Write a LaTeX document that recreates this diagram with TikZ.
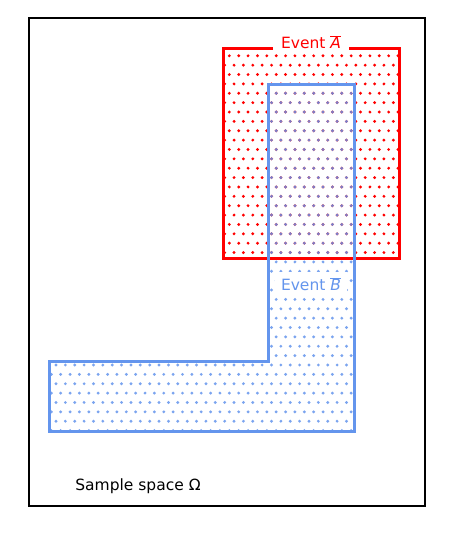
\documentclass[tikz,border=0pt]{standalone}
\usepackage{fontspec}
\setmainfont{DejaVu Sans}
\definecolor{evA}{RGB}{255,0,0}
\definecolor{evB}{RGB}{100,149,237}
\tikzset{
  frame/.style={draw=black,line width=2.6pt},
  borderA/.style={draw=evA,line width=3pt},
  borderB/.style={draw=evB,line width=3pt},
  lbl/.style={font=\fontsize{15.5}{18}\selectfont,inner sep=2pt},
}
\newcommand{\dotgrid}[5]{% k from, k to, j from, j to, colour
  \foreach \k in {#1,...,#2}{
    \pgfmathsetmacro{\yy}{365+\k*9.37}
    \pgfmathsetmacro{\off}{abs(mod(\k,2))*4.685}
    \foreach \j in {#3,...,#4}{
      \fill[#5] ({56+\j*9.37+\off},\yy) circle (1.6);
    }
  }
}
\begin{document}
\begin{tikzpicture}[x=1pt,y=-1pt]
\useasboundingbox (0,0) rectangle (459,543);
\fill[white] (0,0) rectangle (459,543);
% frame
\draw[frame] (29,18) rectangle (425,506);
% Event A dots
\begin{scope}
  \clip (223,49) rectangle (399,258);
  \dotgrid{-34}{-11}{17}{37}{evA}
\end{scope}
\coordinate (a1) at (223,49);
\coordinate (a2) at (399,258);
\draw[borderA] (a1) rectangle (a2);
% Event B dots
\begin{scope}
  \clip (268,84) -- (354,84) -- (354,431) -- (49,431) -- (49,361) -- (268,361) -- cycle;
  \dotgrid{-31}{8}{-1}{33}{evB,opacity=0.85}
\end{scope}
\coordinate (b1) at (268,84);
\coordinate (b2) at (354,84);
\coordinate (b3) at (354,431);
\coordinate (b4) at (49,431);
\coordinate (b5) at (49,361);
\coordinate (b6) at (268,361);
\draw[borderB,line join=miter] (b1) -- (b2) -- (b3) -- (b4) -- (b5) -- (b6) -- cycle;
% labels
\node[lbl,fill=white,text=evA,inner xsep=8pt] (la) at (311,42) {Event $\overline{\mbox{\itshape A}}$};
\node[lbl,fill=white,text=evB,inner xsep=6pt,inner ysep=5pt] (lb) at (311,284) {Event $\overline{\mbox{\itshape B}}$};
\node[lbl,text=black] (ls) at (138,486) {Sample space Ω};
\end{tikzpicture}
\end{document}
